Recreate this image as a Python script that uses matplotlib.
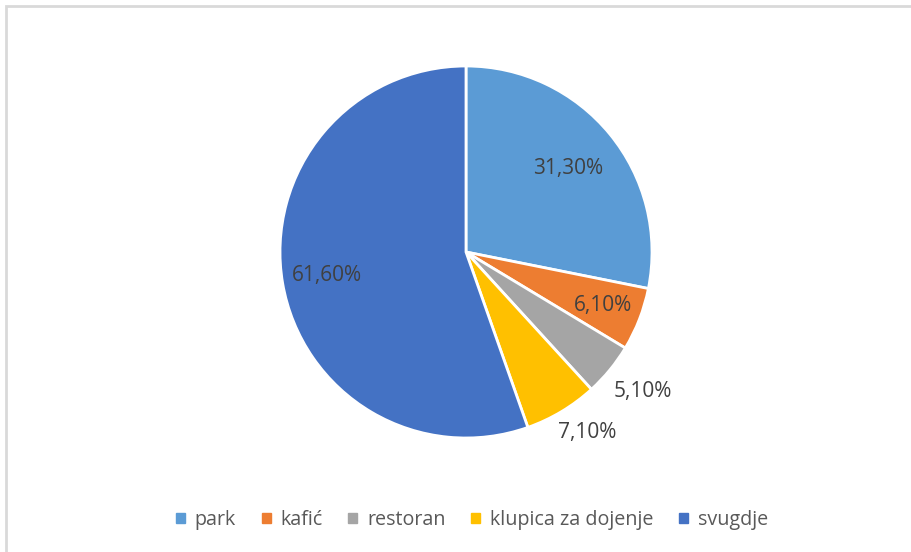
# -*- coding: utf-8 -*-
import numpy as np
from matplotlib import pyplot as plt
from matplotlib.patches import Rectangle

# donnees :
categories = ["park", "kafić", "restoran", "klupica za dojenje", "svugdje"]
values = [31.3, 6.1, 5.1, 7.1, 61.6]
labels = ["31,30%", "6,10%", "5,10%", "7,10%", "61,60%"]
colors = ["#5B9BD5", "#ED7D31", "#A5A5A5", "#FFC000", "#4472C4"]
label_radius = [0.71, 0.79, 1.21, 1.17, 0.76]
label_shift = [0, 0, 1.0, 3.0, 0]   # decalage angulaire (degres)

plt.rcParams['font.family'] = ['Open Sans', 'DejaVu Sans']

W, H = 912, 552
fig = plt.figure(figsize=(W / 100, H / 100), dpi=100)

# cadre gris (haut et gauche visibles)
fig.patches.append(Rectangle((6 / W, -0.1), 1.2, (552 - 6) / H + 0.1,
                             transform=fig.transFigure, fill=False,
                             edgecolor="#D9D9D9", linewidth=2))

cx, cy, r = 466, 252, 186
ax = fig.add_axes([(cx - r) / W, (H - cy - r) / H, 2 * r / W, 2 * r / H])
wedges, _ = ax.pie(values, colors=colors, startangle=90, counterclock=False,
                   radius=1, wedgeprops=dict(edgecolor="white", linewidth=2))
ax.set_xlim(-1, 1)
ax.set_ylim(-1, 1)
ax.set_aspect("equal")
ax.axis("off")

for w, lab, lr, sh in zip(wedges, labels, label_radius, label_shift):
    ang = np.deg2rad((w.theta1 + w.theta2) / 2 + sh)
    ax.text(lr * np.cos(ang), lr * np.sin(ang), lab, ha="center", va="center",
            fontsize=15, color="#404040", clip_on=False)

handles = [Rectangle((0, 0), 1, 1, color=c) for c in colors]
fig.legend(handles, categories, loc="center", bbox_to_anchor=(472 / W, 1 - 520 / H),
           ncol=5, frameon=False, fontsize=14.2, labelcolor="#595959",
           handlelength=0.45, handleheight=0.45, handletextpad=0.5, columnspacing=1.3)

fig.savefig("out.png", dpi=100)
